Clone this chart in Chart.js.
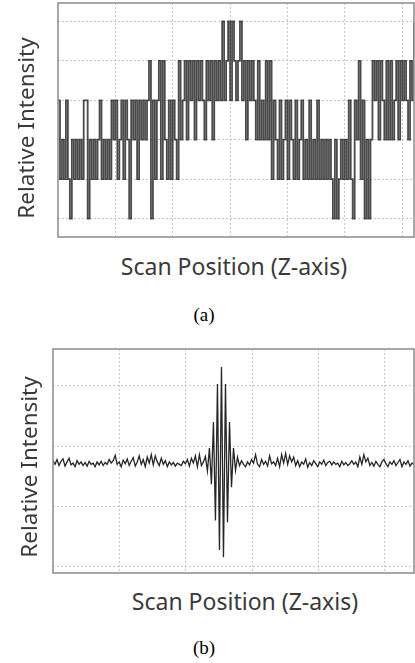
<!DOCTYPE html>
<html>
<head>
<meta charset="utf-8">
<title>Scan Position</title>
<script src="https://cdn.jsdelivr.net/npm/chart.js@4.4.1/dist/chart.umd.min.js"></script>
<style>
  html, body { margin: 0; padding: 0; background: #fff; }
  #page { position: relative; width: 415px; height: 663px; overflow: hidden; font-family: "Noto Sans", "Open Sans", sans-serif; color: #3a3a3a; }
  canvas { position: absolute; left: 0; }
  #chart-a { top: 0; }
  #chart-b { top: 340px; }
  .ytitle, .xtitle, .caption { position: absolute; white-space: nowrap; line-height: 1; }
  .ytitle { font-size: 22.5px; transform: translate(-50%, -50%) rotate(-90deg); }
  .xtitle { font-size: 23px; transform: translate(-50%, -50%); }
  .caption { font-family: "Liberation Serif", "Times New Roman", serif; font-size: 19px; color: #000; transform: translate(-50%, -50%); }
</style>
</head>
<body>
<div id="page">
  <canvas id="chart-a" width="415" height="240"></canvas>
  <canvas id="chart-b" width="415" height="240"></canvas>
  <div class="ytitle" style="left:26px; top:128px">Relative Intensity</div>
  <div class="xtitle" style="left:234px; top:266px">Scan Position (Z-axis)</div>
  <div class="caption" style="left:204px; top:314px">(a)</div>
  <div class="ytitle" style="left:29px; top:467px">Relative Intensity</div>
  <div class="xtitle" style="left:245px; top:601px">Scan Position (Z-axis)</div>
  <div class="caption" style="left:204px; top:647px">(b)</div>
</div>
<script>
// (a) 量化后的强度 — 每个采样点的电平
const levelsA = [
  3, 1, 2, 1, 3, 1, 0, 2, 1, 2, 1, 2, 1, 3, 3, 0, 2, 1, 2, 1,
  2, 3, 1, 2, 1, 2, 1, 3, 2, 3, 1, 2, 3, 1, 3, 2, 0, 3, 2, 3,
  1, 3, 2, 3, 2, 3, 4, 0, 3, 1, 3, 4, 1, 4, 2, 1, 3, 1, 3, 2,
  1, 4, 2, 3, 4, 2, 4, 3, 4, 2, 4, 3, 4, 3, 2, 4, 3, 4, 2, 4,
  3, 4, 3, 5, 3, 4, 5, 3, 5, 4, 3, 4, 5, 3, 4, 2, 4, 3, 4, 3,
  2, 4, 2, 3, 2, 4, 2, 4, 1, 3, 2, 1, 3, 1, 2, 3, 1, 3, 2, 1,
  3, 1, 2, 3, 1, 2, 1, 3, 1, 2, 1, 3, 1, 2, 1, 2, 1, 2, 1, 0,
  2, 0, 1, 2, 1, 2, 1, 3, 1, 0, 3, 2, 4, 1, 3, 0, 2, 0, 2, 4,
  3, 4, 2, 4, 3, 2, 4, 2, 4, 2, 3, 4, 2, 4, 3, 4, 3, 2, 4, 3,
  5
];

// (b) 干涉信号 — 噪声基线 + 中间的包络
const intensityB = [
  1.76, 1.70, 1.78, 1.68, 1.75, 1.79, 1.67, 1.74, 1.80, 1.69,
  1.72, 1.66, 1.76, 1.70, 1.74, 1.68, 1.73, 1.67, 1.75, 1.70,
  1.72, 1.66, 1.74, 1.69, 1.75, 1.68, 1.73, 1.70, 1.78, 1.72,
  1.76, 1.85, 1.70, 1.74, 1.66, 1.77, 1.71, 1.79, 1.68, 1.75,
  1.81, 1.67, 1.74, 1.84, 1.70, 1.78, 1.66, 1.82, 1.72, 1.86,
  1.69, 1.84, 1.74, 1.68, 1.80, 1.70, 1.76, 1.66, 1.74, 1.69,
  1.73, 1.67, 1.72, 1.70, 1.68, 1.75, 1.71, 1.78, 1.67, 1.80,
  1.72, 1.84, 1.66, 1.86, 1.68, 1.74,
  1.83, 1.59, 1.97, 1.37, 2.40, 0.77, 3.03, 0.28, 3.31, 0.16,
  3.03, 0.74, 2.40, 1.32, 1.97, 1.60, 1.82,
  1.68, 1.76, 1.70, 1.66, 1.74, 1.69, 1.78,
  1.72, 1.86, 1.70, 1.66, 1.78, 1.70, 1.75, 1.67, 1.84, 1.71,
  1.74, 1.68, 1.80, 1.66, 1.86, 1.72, 1.88, 1.70, 1.84, 1.74,
  1.82, 1.68, 1.76, 1.66, 1.74, 1.70, 1.79, 1.65, 1.73, 1.68,
  1.76, 1.71, 1.66, 1.74, 1.70, 1.77, 1.68, 1.73, 1.75, 1.69,
  1.74, 1.70, 1.72, 1.66, 1.75, 1.69, 1.73, 1.68, 1.71, 1.76,
  1.70, 1.74, 1.66, 1.82, 1.70, 1.86, 1.74, 1.80, 1.68, 1.73,
  1.67, 1.75, 1.70, 1.66, 1.74, 1.78, 1.71, 1.66, 1.74, 1.70,
  1.76, 1.68, 1.73, 1.78, 1.66, 1.74, 1.70, 1.76, 1.67, 1.72,
  1.70
];

// 网格线位置
const gridXA = [29, 58, 87, 116, 145, 174];
const gridYA = [0, 1, 2, 3, 4, 5];
const gridXB = [33.1, 66.2, 99.3, 132.4, 165.5];
const gridYB = [0, 1, 2, 3];

// 绘图区外框
const framePlugin = {
  id: 'frame',
  afterDraw(chart) {
    const { ctx, chartArea: a } = chart;
    ctx.save();
    ctx.strokeStyle = '#8c8c8c';
    ctx.lineWidth = 1.5;
    ctx.strokeRect(a.left, a.top, a.right - a.left, a.bottom - a.top);
    ctx.restore();
  }
};

function axis(min, max, ticks) {
  return {
    type: 'linear',
    min: min,
    max: max,
    afterBuildTicks: scale => { scale.ticks = ticks.map(v => ({ value: v })); },
    ticks: { display: false },
    grid: { color: '#c6c6c6', lineWidth: 1, drawTicks: false },
    border: { display: false, dash: [2, 2] }
  };
}

function makeChart(id, values, line, padding, xScale, yScale) {
  return new Chart(document.getElementById(id), {
    type: 'line',
    data: {
      datasets: [Object.assign({
        data: values.map((v, i) => ({ x: i, y: v })),
        pointRadius: 0,
        fill: false
      }, line)]
    },
    options: {
      responsive: false,
      animation: false,
      layout: { padding: padding },
      plugins: { legend: { display: false }, tooltip: { enabled: false } },
      scales: { x: xScale, y: yScale }
    },
    plugins: [framePlugin]
  });
}

makeChart('chart-a', levelsA,
  { borderColor: 'rgba(30,30,30,0.8)', borderWidth: 1.8, stepped: true },
  { left: 58, top: 3, right: 1, bottom: 3 },
  axis(0, 180, gridXA), axis(-0.47, 5.47, gridYA));

makeChart('chart-b', intensityB,
  { borderColor: '#262626', borderWidth: 1.3, tension: 0 },
  { left: 53, top: 9, right: 1, bottom: 7 },
  axis(0, 180, gridXB), axis(-0.1, 3.61, gridYB));
</script>
</body>
</html>
